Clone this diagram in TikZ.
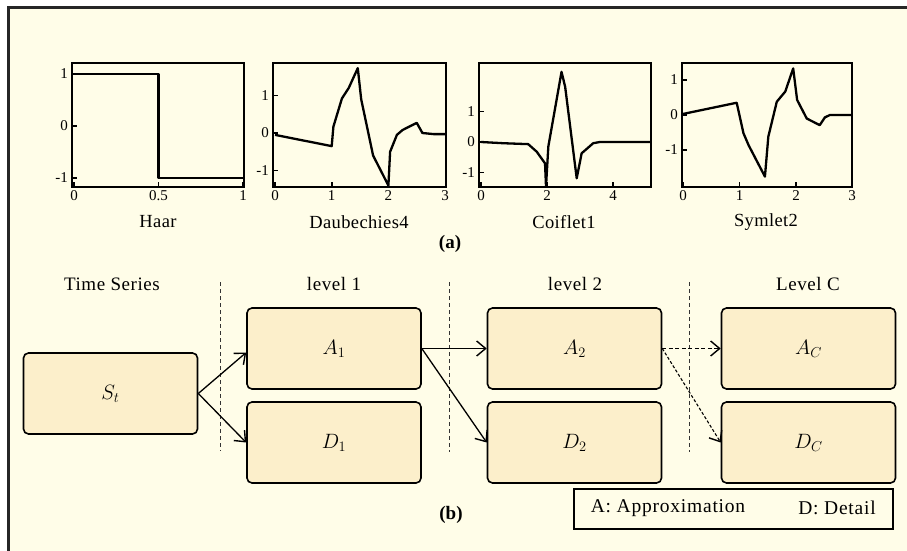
\documentclass[tikz,border=0pt]{standalone}
\usepackage{fontspec}
\setmainfont{Liberation Serif}
\usetikzlibrary{arrows.meta}
\definecolor{bgcream}{HTML}{FFFDE8}
\definecolor{boxfill}{HTML}{FCEFCB}
\tikzset{
  wbox/.style={draw=black, line width=1.6pt, rounded corners=5pt, fill=boxfill, minimum width=174pt, minimum height=81pt, inner sep=0pt},
  frm/.style={draw=black, line width=2.8pt},
  curve/.style={draw=black, line width=2.3pt, line join=round},
  tck/.style={draw=black, line width=1.8pt},
  ticklab/.style={font=\fontsize{15}{15}\selectfont, inner sep=1pt},
  plotlab/.style={font=\fontsize{18.5}{18.5}\selectfont\addfontfeatures{LetterSpace=2}},
  hdr/.style={font=\fontsize{19}{19}\selectfont\addfontfeatures{LetterSpace=3}},
  flow/.style={draw=black, line width=1.3pt, -{Straight Barb[length=9pt,width=15pt,line width=1.4pt]}},
  sep/.style={draw=black!80, line width=0.9pt, dash pattern=on 4pt off 3pt},
  mlab/.style={font=\fontsize{20}{20}\selectfont}
}
\begin{document}
\begin{tikzpicture}[x=1pt,y=-1pt]
\useasboundingbox (0,0) rectangle (907,551);
\fill[white] (0,0) rectangle (907,551);
\fill[bgcream] (8.5,7.5) rectangle (907,551);
\draw[line width=2.2pt, black!85] (8.5,551) -- (8.5,7.5) -- (907,7.5);

% ---------- Plot 1: Haar ----------
\begin{scope}[shift={(74,126)}, xscale=169, yscale=-52]
  \draw[curve] (0,1) -- (0.5,1) -- (0.5,-1) -- (1,-1);
\end{scope}
\draw[frm] (72,63) rectangle (244,187);
\foreach \yy in {74,126,178} \draw[tck] (72,\yy) -- (77,\yy);
\foreach \xx in {74,158.5,243} \draw[tck] (\xx,187) -- (\xx,182);
\node[ticklab, anchor=east] (h1) at (69,74) {1};
\node[ticklab, anchor=east] (h0) at (69,126) {0};
\node[ticklab, anchor=east] (hm1) at (69,178) {-1};
\node[ticklab, anchor=north] (hx0) at (74,189) {0};
\node[ticklab, anchor=north] (hx05) at (158.5,189) {0.5};
\node[ticklab, anchor=north] (hx1) at (243,189) {1};
\node[plotlab] (haar) at (158,222) {Haar};

% ---------- Plot 2: Daubechies4 ----------
\begin{scope}[shift={(275,133)}, xscale=56.7, yscale=-37.5]
  \draw[curve] (0,-0.05) -- (0.5,-0.2) -- (1,-0.35) -- (1.03,0.17) -- (1.18,0.92) -- (1.3,1.2) -- (1.46,1.73) -- (1.52,0.9) -- (1.73,-0.6) -- (2.0,-1.4) -- (2.03,-0.5) -- (2.15,-0.05) -- (2.25,0.08) -- (2.5,0.27) -- (2.6,0.0) -- (2.8,-0.03) -- (3,-0.03);
\end{scope}
\draw[frm] (273,63) rectangle (446,187);
\foreach \yy in {95.5,133,170.5} \draw[tck] (273,\yy) -- (278,\yy);
\foreach \xx in {275,331.7,388.4} \draw[tck] (\xx,187) -- (\xx,182);
\node[ticklab, anchor=east] (d1) at (270,95.5) {1};
\node[ticklab, anchor=east] (d0) at (270,133) {0};
\node[ticklab, anchor=east] (dm1) at (270,170.5) {-1};
\node[ticklab, anchor=north] (dx0) at (275,189) {0};
\node[ticklab, anchor=north] (dx1) at (331.7,189) {1};
\node[ticklab, anchor=north] (dx2) at (388.4,189) {2};
\node[ticklab, anchor=north] (dx3) at (445,189) {3};
\node[plotlab] (daub) at (359,222) {Daubechies4};

% ---------- Plot 3: Coiflet1 ----------
\begin{scope}[shift={(481,142)}, xscale=33, yscale=-30.5]
  \draw[curve] (0,0) -- (0.68,-0.04) -- (1.43,-0.07) -- (1.69,-0.32) -- (1.94,-0.7) -- (1.97,-1.46) -- (2.04,-0.15) -- (2.44,2.3) -- (2.55,1.81) -- (2.9,-1.19) -- (3.05,-0.37) -- (3.4,-0.04) -- (3.6,0) -- (5.12,0);
\end{scope}
\draw[frm] (479,63) rectangle (651,187);
\foreach \yy in {111.5,142,172.5} \draw[tck] (479,\yy) -- (484,\yy);
\foreach \xx in {481,547,613} \draw[tck] (\xx,187) -- (\xx,182);
\node[ticklab, anchor=east] (c1) at (476,111.5) {1};
\node[ticklab, anchor=east] (c0) at (476,142) {0};
\node[ticklab, anchor=east] (cm1) at (476,172.5) {-1};
\node[ticklab, anchor=north] (cx0) at (481,189) {0};
\node[ticklab, anchor=north] (cx2) at (547,189) {2};
\node[ticklab, anchor=north] (cx4) at (613,189) {4};
\node[plotlab] (coif) at (564,222) {Coiflet1};

% ---------- Plot 4: Symlet2 ----------
\begin{scope}[shift={(683,115)}, xscale=56.5, yscale=-35]
  \draw[curve] (0,0.03) -- (0.95,0.35) -- (1.07,-0.52) -- (1.16,-0.86) -- (1.45,-1.76) -- (1.51,-0.62) -- (1.66,0.38) -- (1.81,0.67) -- (1.95,1.33) -- (2.02,0.43) -- (2.19,-0.1) -- (2.42,-0.29) -- (2.51,-0.07) -- (2.6,0) -- (2.98,0);
\end{scope}
\draw[frm] (682,63) rectangle (852,187);
\foreach \yy in {80,115,150} \draw[tck] (682,\yy) -- (687,\yy);
\foreach \xx in {683,739.5,796} \draw[tck] (\xx,187) -- (\xx,182);
\node[ticklab, anchor=east] (s1) at (679,80) {1};
\node[ticklab, anchor=east] (s0) at (679,115) {0};
\node[ticklab, anchor=east] (sm1) at (679,150) {-1};
\node[ticklab, anchor=north] (sx0) at (683,189) {0};
\node[ticklab, anchor=north] (sx1) at (739.5,189) {1};
\node[ticklab, anchor=north] (sx2) at (796,189) {2};
\node[ticklab, anchor=north] (sx3) at (852,189) {3};
\node[plotlab] (sym) at (766,222) {Symlet2};

\node[font=\fontsize{19}{19}\selectfont\bfseries] (cap a) at (450,244) {(a)};

% ---------- Part (b) ----------
\node[hdr] (ts) at (112,284) {Time Series};
\node[hdr] (l1) at (334,284) {level 1};
\node[hdr] (l2) at (575,284) {level 2};
\node[hdr] (lc) at (808,284) {Level C};

\coordinate (s1t) at (220,282); \coordinate (s1b) at (220,451);
\coordinate (s2t) at (449,282); \coordinate (s2b) at (449,452);
\coordinate (s3t) at (689,282); \coordinate (s3b) at (689,452);
\draw[sep] (s1t) -- (s1b);
\draw[sep] (s2t) -- (s2b);
\draw[sep] (s3t) -- (s3b);

\node[wbox, mlab] (St) at (110.5,393.5) {$S_t$};
\node[wbox, mlab] (A1) at (334,348.5) {$A_1$};
\node[wbox, mlab] (D1) at (334,442.5) {$D_1$};
\node[wbox, mlab] (A2) at (574.5,348.5) {$A_2$};
\node[wbox, mlab] (D2) at (574.5,442.5) {$D_2$};
\node[wbox, mlab] (AC) at (808.5,348.5) {$A_C$};
\node[wbox, mlab] (DC) at (808.5,442.5) {$D_C$};

\draw[flow] (St.east) -- ([yshift=-4pt]A1.west);
\draw[flow] (St.east) -- (D1.west);
\draw[flow] (A1.east) -- (A2.west);
\draw[flow] (A1.east) -- (D2.west);
\draw[flow, line width=1.6pt, dash pattern=on 4pt off 2.5pt] (A2.east) -- (AC.west);
\draw[flow, line width=1.1pt, dash pattern=on 3pt off 2pt] (A2.east) -- (DC.west);

\node[draw=black, line width=1.4pt, minimum width=319pt, minimum height=40pt] (leg) at (733.5,509) {};
\node[font=\fontsize{19.5}{19.5}\selectfont\addfontfeatures{LetterSpace=4}] (lega) at (668,508) {A: Approximation};
\node[font=\fontsize{19.5}{19.5}\selectfont\addfontfeatures{LetterSpace=4}] (legd) at (837,508) {D: Detail};

\node[font=\fontsize{19}{19}\selectfont\bfseries] (cap b) at (451,515) {(b)};
\end{tikzpicture}
\end{document}
